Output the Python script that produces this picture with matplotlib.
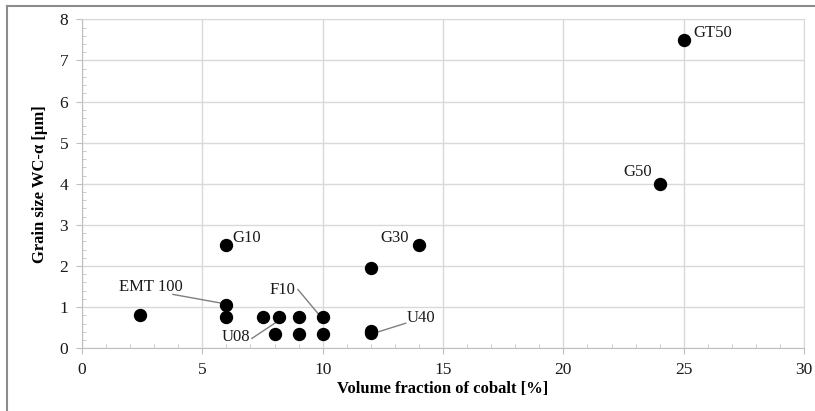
"""
Scatter of WC grain size vs cobalt volume fraction.
"""
import matplotlib
matplotlib.use('Agg')
import matplotlib.pyplot as plt
from matplotlib.lines import Line2D
from matplotlib.ticker import MultipleLocator

# Data
cobalt = [2.4, 6.0, 6.0, 6.0, 7.5, 8.2, 8.0, 9.0, 9.0, 10.0, 10.0, 12.0, 12.0, 12.0, 14.0, 24.0, 25.0]
grain = [0.8, 2.5, 1.05, 0.75, 0.75, 0.75, 0.35, 0.75, 0.35, 0.75, 0.35, 1.95, 0.42, 0.36, 2.5, 4.0, 7.5]

# grade labels: (text, text x, text y, alignment, leader line start, leader line end)
labels = ['G10', 'G30', 'GT50', 'G50', 'EMT 100', 'F10', 'U08', 'U40']
label_pos = [(6.25, 2.68), (13.6, 2.68), (25.4, 7.66), (23.7, 4.28),
             (4.2, 1.48), (8.85, 1.41), (7.0, 0.27), (13.5, 0.73)]
label_ha = ['left', 'right', 'left', 'right', 'right', 'right', 'right', 'left']
leader_from = [None, None, None, None, (3.78, 1.31), (8.97, 1.43), (7.06, 0.24), (13.45, 0.61)]
leader_to = [None, None, None, None, (5.86, 1.09), (9.8, 0.85), (8.06, 0.63), (12.26, 0.39)]

plt.rcParams['font.family'] = ['Liberation Serif', 'DejaVu Serif']

fig = plt.figure(figsize=(8.15, 4.11), dpi=100)
ax = fig.add_axes([0.1006, 0.1526, 0.886, 0.8004])

ax.plot(cobalt, grain, 'o', color='black', markersize=8.6, zorder=3)

for i, txt in enumerate(labels):
    ax.text(label_pos[i][0], label_pos[i][1], txt, ha=label_ha[i], va='center',
            fontsize=12, color='#1a1a1a')
    if leader_from[i] is not None:
        ax.plot([leader_from[i][0], leader_to[i][0]], [leader_from[i][1], leader_to[i][1]],
                color='#7f7f7f', lw=1.0, zorder=2)

ax.set_xlim(0, 30)
ax.set_ylim(0, 8)
ax.xaxis.set_major_locator(MultipleLocator(5))
ax.xaxis.set_minor_locator(MultipleLocator(1))
ax.yaxis.set_major_locator(MultipleLocator(1))
ax.yaxis.set_minor_locator(MultipleLocator(0.2))

ax.grid(which='major', color='#d9d9d9', lw=1.0)
ax.set_axisbelow(True)
for side in ['top', 'right']:
    ax.spines[side].set_color('#d9d9d9')
for side in ['left', 'bottom']:
    ax.spines[side].set_color('#bfbfbf')

ax.tick_params(which='major', direction='out', length=4, color='#bfbfbf',
               labelsize=12.5, labelcolor='#1a1a1a', pad=6)
ax.tick_params(which='minor', direction='in', length=3, color='#bfbfbf')

ax.set_xlabel('Volume fraction of cobalt [%]', fontsize=12, fontweight='bold', labelpad=2)
ax.set_ylabel('Grain size WC-\u03b1 [\u00b5m]', fontsize=12, fontweight='bold', labelpad=8)

# outer frame lines (left and top) of the original figure
fig.add_artist(Line2D([0.0086, 0.0086], [0.0, 0.985], transform=fig.transFigure,
                      color='#8c8c8c', lw=1.5))
fig.add_artist(Line2D([0.0086, 1.0], [0.985, 0.985], transform=fig.transFigure,
                      color='#8c8c8c', lw=1.5))

plt.savefig('out.png', dpi=100)
plt.close()
